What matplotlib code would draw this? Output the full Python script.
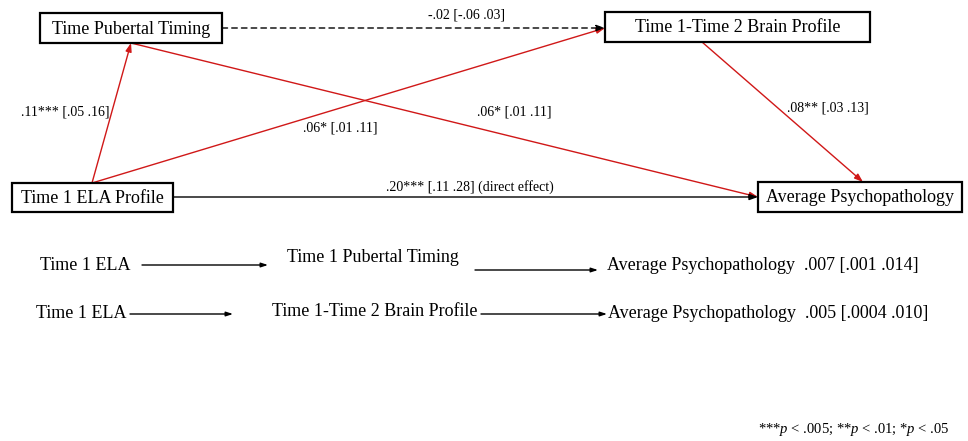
import matplotlib

matplotlib.use("Agg")

import matplotlib.pyplot as plt

plt.rcParams["font.family"] = ["Liberation Serif", "DejaVu Serif"]
plt.rcParams["mathtext.fontset"] = "custom"
plt.rcParams["mathtext.rm"] = "Liberation Serif"
plt.rcParams["mathtext.it"] = "Liberation Serif:italic"

# model variables
node_names = ["ela", "puberty", "brain", "psych"]
node_labels = ["Time 1 ELA Profile", "Time Pubertal Timing",
               "Time 1-Time 2 Brain Profile", "Average Psychopathology"]

# paths: source, target, estimate, CI low, CI high, stars, significant
path_src = ["ela", "ela", "puberty", "brain", "puberty", "ela"]
path_dst = ["puberty", "brain", "psych", "psych", "brain", "psych"]
path_est = [0.11, 0.06, 0.06, 0.08, -0.02, 0.20]
path_lo = [0.05, 0.01, 0.01, 0.03, -0.06, 0.11]
path_hi = [0.16, 0.11, 0.11, 0.13, 0.03, 0.28]
path_stars = ["***", "*", "*", "**", "", "***"]
path_note = ["", "", "", "", "", " (direct effect)"]
path_sig = [True, True, True, True, False, True]

# indirect effects
ind_start = ["Time 1 ELA", "Time 1 ELA"]
ind_mediator = ["Time 1 Pubertal Timing", "Time 1-Time 2 Brain Profile"]
ind_outcome = ["Average Psychopathology", "Average Psychopathology"]
ind_est = [0.007, 0.005]
ind_lo = [0.001, 0.0004]
ind_hi = [0.014, 0.010]
ind_dec = [3, 4]

footnote = "***$p$ < .005; **$p$ < .01; *$p$ < .05"

RED = "#d01818"

# layout in pixel units
box = {
    "puberty": (40, 13, 222, 43),
    "brain": (605, 12, 870, 42),
    "ela": (12, 183, 173, 212),
    "psych": (758, 182, 962, 212),
}
anchors = [
    ((92, 183), (131, 43)),
    ((92, 183), (605, 28)),
    ((131, 43), (758, 197)),
    ((702, 42), (863, 182)),
    ((222, 28), (605, 28)),
    ((173, 197), (758, 197)),
]
label_xy = [(65, 112), (340, 128), (514, 112), (828, 108), (467, 15), (470, 187)]


def fmt(v, dec=2):
    s = f"{v:.{dec}f}"
    return s.replace("0.", ".", 1)


fig = plt.figure(figsize=(9.68, 4.41), dpi=100)
ax = fig.add_axes([0, 0, 1, 1])
ax.set_xlim(0, 968)
ax.set_ylim(441, 0)
ax.axis("off")

for name, label in zip(node_names, node_labels):
    x0, y0, x1, y1 = box[name]
    ax.add_patch(plt.Rectangle((x0, y0), x1 - x0, y1 - y0, fill=False,
                               edgecolor="black", linewidth=1.6, zorder=3))
    ax.text((x0 + x1) / 2, (y0 + y1) / 2 + 1, label, ha="center", va="center",
            fontsize=13, zorder=4)

for i in range(len(path_est)):
    (sx, sy), (tx, ty) = anchors[i]
    direct = path_src[i] == "ela" and path_dst[i] == "psych"
    color = RED if path_sig[i] and not direct else "black"
    ls = "-" if path_sig[i] else (0, (4, 3))
    ax.annotate("", xy=(tx, ty), xytext=(sx, sy),
                arrowprops=dict(arrowstyle="-|>,head_length=0.5,head_width=0.18",
                                color=color, linewidth=1.0, linestyle=ls,
                                shrinkA=0, shrinkB=0),
                zorder=2)
    txt = f"{fmt(path_est[i])}{path_stars[i]} [{fmt(path_lo[i])} {fmt(path_hi[i])}]{path_note[i]}"
    lx, ly = label_xy[i]
    ax.text(lx, ly, txt, ha="center", va="center", fontsize=10, zorder=4)

# indirect effect rows
rows_y = [265, 314]
start_x = [40, 36]
arrow1 = [(142, 268), (130, 233)]
mid_x = [287, 272]
mid_dy = [-7, -2]
arrow2 = [(475, 598), (481, 607)]
end_x = [607, 608]

for j in range(len(ind_est)):
    y = rows_y[j]
    ax.text(start_x[j], y, ind_start[j], ha="left", va="center", fontsize=13)
    for (a, b), yy in ((arrow1[j], y), (arrow2[j], y + (5 if j == 0 else 0))):
        ax.annotate("", xy=(b, yy), xytext=(a, yy),
                    arrowprops=dict(arrowstyle="-|>,head_length=0.4,head_width=0.13",
                                    color="black", linewidth=1.0,
                                    shrinkA=0, shrinkB=0))
    ax.text(mid_x[j], y + mid_dy[j], ind_mediator[j], ha="left", va="center", fontsize=13)
    eff = f"{ind_outcome[j]}  {fmt(ind_est[j], 3)} [{fmt(ind_lo[j], ind_dec[j])} {fmt(ind_hi[j], 3)}]"
    ax.text(end_x[j], y, eff, ha="left", va="center", fontsize=13)

ax.text(950, 430, footnote, ha="right", va="center", fontsize=10.5)

fig.savefig("out.png", dpi=100)
plt.close(fig)
